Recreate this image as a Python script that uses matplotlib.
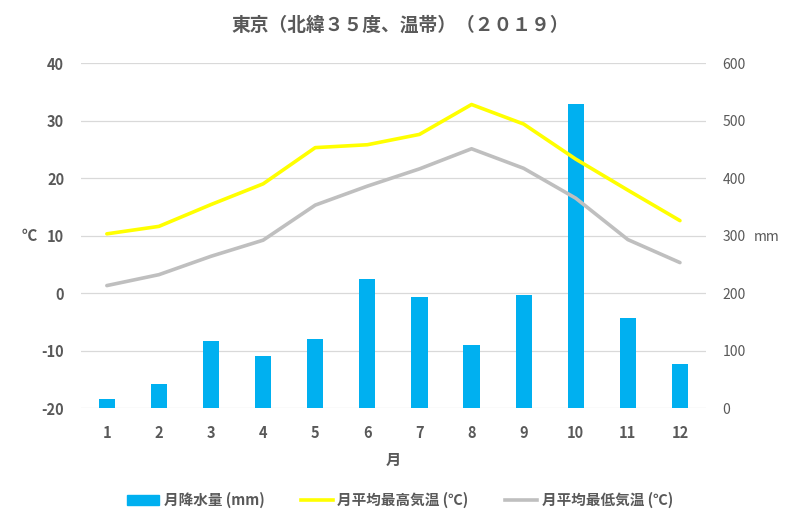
import matplotlib
matplotlib.use("Agg")
import matplotlib.pyplot as plt
from matplotlib.lines import Line2D
from matplotlib.patches import Patch

plt.rcParams['font.family'] = ['Noto Sans CJK JP', 'DejaVu Sans']
plt.rcParams['axes.unicode_minus'] = False

months = [1, 2, 3, 4, 5, 6, 7, 8, 9, 10, 11, 12]
month_labels = ['1', '2', '3', '4', '5', '6', '7', '8', '9', '10', '11', '12']
precip = [16.0, 42.0, 117.0, 90.5, 120.5, 225.0, 193.0, 110.0, 197.0, 529.5, 156.5, 76.5]
tmax = [10.3, 11.6, 15.4, 19.0, 25.3, 25.8, 27.6, 32.8, 29.4, 23.3, 17.9, 12.6]
tmin = [1.3, 3.2, 6.4, 9.2, 15.3, 18.6, 21.6, 25.1, 21.7, 16.5, 9.3, 5.3]

TXT = '#595959'
fig = plt.figure(figsize=(8, 5.26), dpi=100)
ax = fig.add_axes([0.101, 0.2243, 0.7815, 0.6557])
ax2 = ax.twinx()

# bars on secondary axis, drawn beneath lines
ax2.bar(months, precip, width=0.31, color='#00B0F0', zorder=2)
ax.set_zorder(ax2.get_zorder() + 1)
ax.patch.set_visible(False)

ax.plot(months, tmax, color='#FFFF00', lw=2.6, zorder=3, solid_capstyle='round')
ax.plot(months, tmin, color='#BFBFBF', lw=2.6, zorder=3, solid_capstyle='round')

ax.set_xlim(0.5, 12.5)
ax.set_ylim(-20, 40)
ax.set_yticks(range(-20, 41, 10))
ax2.set_ylim(0, 600)
ax2.set_yticks(range(0, 601, 100))

ax2.grid(axis='y', color='#D9D9D9', lw=0.9, zorder=0)
ax2.set_axisbelow(True)

for a in (ax, ax2):
    for s in a.spines.values():
        s.set_visible(False)
    a.tick_params(length=0)

ax.set_xticks(months)
ax.set_xticklabels(month_labels)
ax.tick_params(axis='x', pad=12, labelsize=10.5, labelcolor=TXT)
for t in ax.get_xticklabels():
    t.set_fontweight('bold')
ax.tick_params(axis='y', pad=12, labelsize=10.5, labelcolor=TXT)
for t in ax.get_yticklabels():
    t.set_fontweight('bold')
ax2.tick_params(axis='y', pad=12, labelsize=10, labelcolor=TXT)

ax.set_xlabel('月', fontsize=11, color=TXT, fontweight='bold', labelpad=8)
fig.text(0.037, 1 - 236 / 526, '℃', fontsize=11, color=TXT, fontweight='bold', ha='center', va='center')
fig.text(0.958, 1 - 237 / 526, 'mm', fontsize=10, color=TXT, ha='center', va='center')

fig.text(0.5, 1 - 25 / 526, '東京（北緯３５度、温帯）（２０１９）', fontsize=13.5, color=TXT,
         fontweight='bold', ha='center', va='center')

handles = [Patch(color='#00B0F0'),
           Line2D([0], [0], color='#FFFF00', lw=2.6),
           Line2D([0], [0], color='#BFBFBF', lw=2.6)]
labels = ['月降水量 (mm)', '月平均最高気温 (℃)', '月平均最低気温 (℃)']
leg = fig.legend(handles, labels, loc='center', bbox_to_anchor=(0.5, 1 - 500 / 526), ncol=3,
                 frameon=False, fontsize=10.5, handlelength=2.2, handleheight=0.7,
                 columnspacing=2.5, handletextpad=0.3)
for t in leg.get_texts():
    t.set_color(TXT)
    t.set_fontweight('bold')

fig.savefig('out.png', dpi=100)
